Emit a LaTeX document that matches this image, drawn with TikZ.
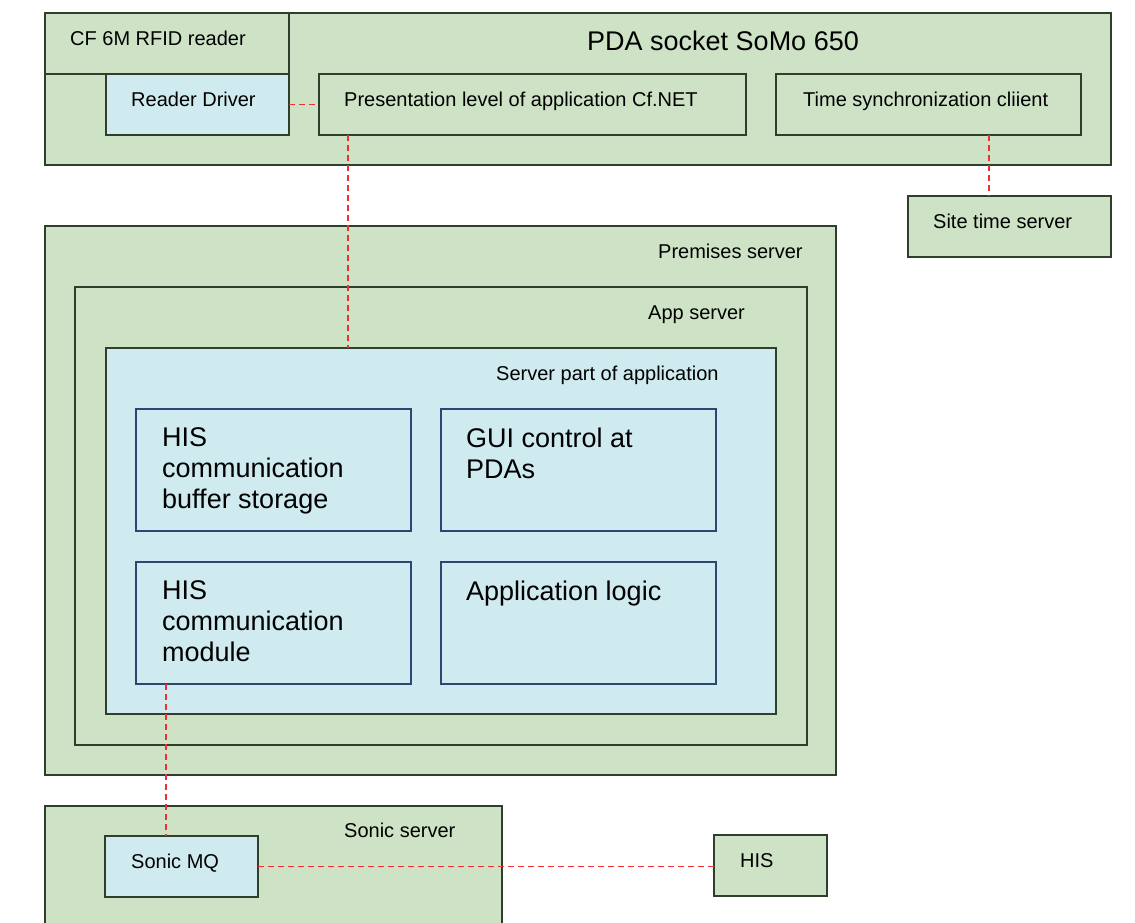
\documentclass[tikz,border=0pt]{standalone}
\usepackage{fontspec}
\setmainfont{Liberation Sans}
\definecolor{boxgreen}{RGB}{206,227,198}
\definecolor{boxblue}{RGB}{207,235,239}
\definecolor{boxline}{RGB}{48,62,44}
\definecolor{modline}{RGB}{45,70,115}
\definecolor{linkred}{RGB}{238,48,48}
\tikzset{
  gbox/.style={draw=boxline, fill=boxgreen, line width=1.5pt, inner sep=0pt, outer sep=0pt, anchor=north west, rectangle},
  bbox/.style={gbox, fill=boxblue},
  mbox/.style={gbox, draw=modline, fill=boxblue},
  lbl/.style={font=\fontsize{20}{24}\selectfont, anchor=base west, inner sep=0pt},
  biglbl/.style={font=\fontsize{27}{31}\selectfont, anchor=base west, inner sep=0pt},
  mlbl/.style={font=\fontsize{27}{31}\selectfont, anchor=north west, inner sep=0pt, align=left},
  link/.style={draw=linkred, line width=1.3pt, dash pattern=on 6pt off 4pt},
}
\begin{document}
\begin{tikzpicture}[x=1pt,y=-1pt]
\useasboundingbox (0,0) rectangle (1135,922);
\clip (0,0) rectangle (1135,922);
% PDA
\node[gbox, minimum width=1066pt, minimum height=152pt] (pda) at (45,13) {};
\node[gbox, minimum width=244pt, minimum height=61pt] (cf) at (45,13) {};
\node[bbox, minimum width=183pt, minimum height=61pt] (rd) at (106,74) {};
\node[gbox, minimum width=427pt, minimum height=61pt] (pres) at (319,74) {};
\node[gbox, minimum width=305pt, minimum height=61pt] (ts) at (776,74) {};
\node[gbox, minimum width=203pt, minimum height=61pt] (sts) at (908,196) {};
\node[lbl] (cft) at (70,45) {CF 6M RFID reader};
\node[biglbl] (pdat) at (587,50) {PDA socket SoMo 650};
\node[lbl] (rdt) at (131,106) {Reader Driver};
\node[lbl] (prest) at (344,106) {Presentation level of application Cf.NET};
\node[lbl] (tst) at (803,106) {Time synchronization cliient};
\node[lbl] (stst) at (933,228) {Site time server};
% Premises
\node[gbox, minimum width=791pt, minimum height=549pt] (prem) at (45,226) {};
\node[gbox, minimum width=732pt, minimum height=458pt] (app) at (75,287) {};
\node[bbox, minimum width=670pt, minimum height=366pt] (sp) at (106,348) {};
\node[lbl] (premt) at (658,258) {Premises server};
\node[lbl] (appt) at (648,319) {App server};
\node[lbl] (spt) at (496,380) {Server part of application};
\node[mbox, minimum width=275pt, minimum height=122pt] (buf) at (136,409) {};
\node[mbox, minimum width=275pt, minimum height=122pt] (gui) at (441,409) {};
\node[mbox, minimum width=275pt, minimum height=122pt] (mod) at (136,562) {};
\node[mbox, minimum width=275pt, minimum height=122pt] (logic) at (441,562) {};
\node[mlbl] (buft) at (162,427.5) {HIS\\communication\\buffer storage};
\node[mlbl] (guit) at (466,427.5) {GUI control at\\PDAs};
\node[mlbl] (modt) at (162,580.5) {HIS\\communication\\module};
\node[mlbl] (logict) at (466,580.5) {Application logic};
% Sonic
\node[gbox, minimum width=457pt, minimum height=140pt] (sonic) at (45,806) {};
\node[bbox, minimum width=153pt, minimum height=61pt] (mq) at (105,836) {};
\node[gbox, minimum width=113pt, minimum height=61pt] (his) at (714,835) {};
\node[lbl] (sonict) at (344,837) {Sonic server};
\node[lbl] (mqt) at (131,868) {Sonic MQ};
\node[lbl] (hist) at (740,867) {HIS};
% links
\draw[link] (rd.east) -- (pres.west);
\draw[link] ([xshift=29pt]pres.south west) -- ([xshift=29pt]pres.south west |- sp.north);
\draw[link] ([xshift=213pt]ts.south west) -- ([xshift=213pt]ts.south west |- sts.north);
\draw[link] ([xshift=30pt]mod.south west) -- ([xshift=30pt]mod.south west |- mq.north);
\draw[link] (mq.east) -- (mq.east -| his.west);
\end{tikzpicture}
\end{document}
